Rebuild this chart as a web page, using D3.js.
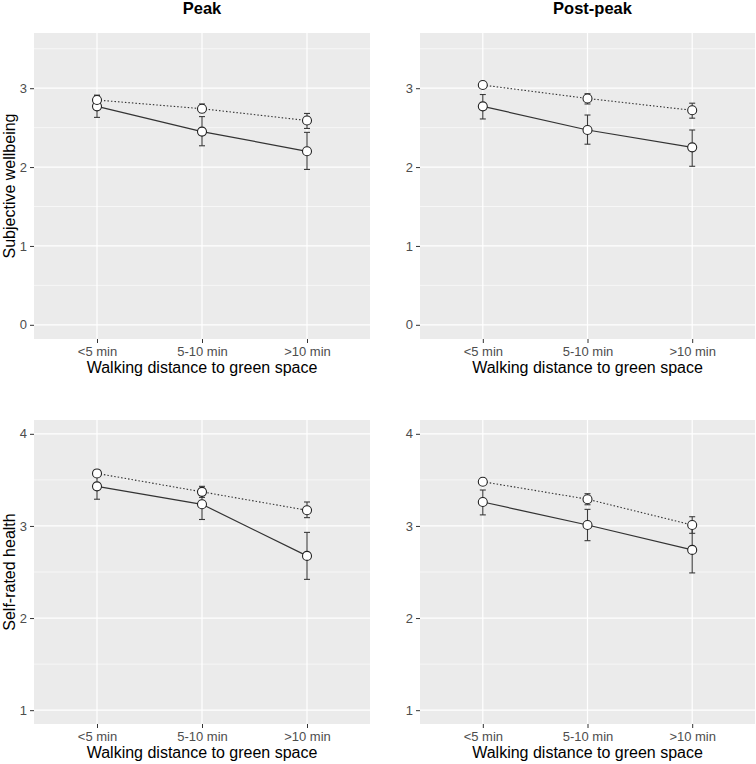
<!DOCTYPE html>
<html>
<head>
<meta charset="utf-8">
<script src="https://cdn.jsdelivr.net/npm/d3@7"></script>
<style>
  body { margin: 0; background: #fff; }
  svg { display: block; font-family: "Liberation Sans", Arial, sans-serif; }
</style>
</head>
<body>
<svg id="chart" width="756" height="764"></svg>
<script>
// ---- Data ----
const categories = ["<5 min", "5-10 min", ">10 min"];
const columnTitles = ["Peak", "Post-peak"];
const rowTitles = ["Subjective wellbeing", "Self-rated health"];
const xAxisTitle = "Walking distance to green space";

const swbTicks = [0, 1, 2, 3];
const srhTicks = [1, 2, 3, 4];

// Peak, subjective wellbeing
const swbPeakSolid = [2.77, 2.45, 2.20];
const swbPeakSolidLo = [2.63, 2.27, 1.97];
const swbPeakSolidHi = [2.91, 2.64, 2.44];
const swbPeakDotted = [2.85, 2.74, 2.59];
const swbPeakDottedLo = [2.80, 2.69, 2.49];
const swbPeakDottedHi = [2.91, 2.80, 2.68];

// Post-peak, subjective wellbeing
const swbPostSolid = [2.77, 2.47, 2.25];
const swbPostSolidLo = [2.61, 2.29, 2.01];
const swbPostSolidHi = [2.92, 2.66, 2.47];
const swbPostDotted = [3.04, 2.87, 2.72];
const swbPostDottedLo = [3.01, 2.80, 2.62];
const swbPostDottedHi = [3.07, 2.93, 2.81];

// Peak, self-rated health
const srhPeakSolid = [3.43, 3.235, 2.675];
const srhPeakSolidLo = [3.29, 3.07, 2.42];
const srhPeakSolidHi = [3.57, 3.39, 2.93];
const srhPeakDotted = [3.57, 3.37, 3.17];
const srhPeakDottedLo = [3.54, 3.31, 3.09];
const srhPeakDottedHi = [3.60, 3.43, 3.26];

// Post-peak, self-rated health
const srhPostSolid = [3.26, 3.01, 2.74];
const srhPostSolidLo = [3.12, 2.84, 2.49];
const srhPostSolidHi = [3.39, 3.18, 2.99];
const srhPostDotted = [3.48, 3.29, 3.01];
const srhPostDottedLo = [3.45, 3.23, 2.92];
const srhPostDottedHi = [3.51, 3.35, 3.10];

// ---- Build panels ----
function series(m, lo, hi) { return categories.map((c, i) => ({ c, m: m[i], lo: lo[i], hi: hi[i] })); }

const panels = [
  { row: 0, col: 0, domain: [-0.18, 3.70], ticks: swbTicks, showTitle: true, ylab: rowTitles[0],
    solid: series(swbPeakSolid, swbPeakSolidLo, swbPeakSolidHi),
    dotted: series(swbPeakDotted, swbPeakDottedLo, swbPeakDottedHi) },
  { row: 0, col: 1, domain: [-0.18, 3.70], ticks: swbTicks, showTitle: true, ylab: null,
    solid: series(swbPostSolid, swbPostSolidLo, swbPostSolidHi),
    dotted: series(swbPostDotted, swbPostDottedLo, swbPostDottedHi) },
  { row: 1, col: 0, domain: [0.85, 4.15], ticks: srhTicks, showTitle: false, ylab: rowTitles[1],
    solid: series(srhPeakSolid, srhPeakSolidLo, srhPeakSolidHi),
    dotted: series(srhPeakDotted, srhPeakDottedLo, srhPeakDottedHi) },
  { row: 1, col: 1, domain: [0.85, 4.15], ticks: srhTicks, showTitle: false, ylab: null,
    solid: series(srhPostSolid, srhPostSolidLo, srhPostSolidHi),
    dotted: series(srhPostDotted, srhPostDottedLo, srhPostDottedHi) }
];

const colX = [[34, 370], [420, 755]];
const rowY = [[33, 339], [420, 724]];

const svg = d3.select("#chart");

panels.forEach(p => {
  const [x0, x1] = colX[p.col];
  const [y0, y1] = rowY[p.row];
  const x = d3.scalePoint().domain(categories).range([x0, x1]).padding(0.6);
  const y = d3.scaleLinear().domain(p.domain).range([y1, y0]);
  const g = svg.append("g");

  // background
  g.append("rect").attr("x", x0).attr("y", y0).attr("width", x1 - x0).attr("height", y1 - y0).attr("fill", "#EBEBEB");

  // minor grid
  const minor = d3.range(Math.ceil(p.domain[0] * 2) / 2, p.domain[1], 0.5).filter(v => Math.abs(v - Math.round(v)) > 0.01);
  g.selectAll(".minor").data(minor).join("line")
    .attr("x1", x0).attr("x2", x1).attr("y1", d => y(d)).attr("y2", d => y(d))
    .attr("stroke", "#fff").attr("stroke-width", 0.6);
  // major grid
  g.selectAll(".majorY").data(p.ticks).join("line")
    .attr("x1", x0).attr("x2", x1).attr("y1", d => y(d)).attr("y2", d => y(d))
    .attr("stroke", "#fff").attr("stroke-width", 1.2);
  g.selectAll(".majorX").data(categories).join("line")
    .attr("x1", d => x(d)).attr("x2", d => x(d)).attr("y1", y0).attr("y2", y1)
    .attr("stroke", "#fff").attr("stroke-width", 1.2);

  // axes
  const yAxis = d3.axisLeft(y).tickValues(p.ticks).tickSize(4).tickPadding(3).tickFormat(d3.format("d"));
  const ya = g.append("g").attr("transform", `translate(${x0},0)`).call(yAxis);
  ya.select(".domain").remove();
  ya.selectAll(".tick line").attr("stroke", "#333").attr("stroke-width", 1);
  ya.selectAll(".tick text").attr("fill", "#4D4D4D").style("font-size", "13px").style("font-family", "Liberation Sans, Arial, sans-serif");

  const xAxis = d3.axisBottom(x).tickSize(4).tickPadding(4);
  const xa = g.append("g").attr("transform", `translate(0,${y1})`).call(xAxis);
  xa.select(".domain").remove();
  xa.selectAll(".tick line").attr("stroke", "#333").attr("stroke-width", 1);
  xa.selectAll(".tick text").attr("fill", "#4D4D4D").style("font-size", "13px").style("font-family", "Liberation Sans, Arial, sans-serif");

  // axis titles
  g.append("text").attr("x", (x0 + x1) / 2).attr("y", y1 + 34).attr("text-anchor", "middle")
    .attr("fill", "#000").style("font-size", "16px").text(xAxisTitle);
  if (p.ylab) {
    g.append("text").attr("transform", `translate(15,${(y0 + y1) / 2}) rotate(-90)`).attr("text-anchor", "middle")
      .attr("fill", "#000").style("font-size", "16px").text(p.ylab);
  }
  if (p.showTitle) {
    g.append("text").attr("x", (x0 + x1) / 2 + (p.col === 1 ? 5 : 0)).attr("y", 14).attr("text-anchor", "middle")
      .attr("fill", "#000").style("font-size", "16.5px").style("font-weight", "bold").text(columnTitles[p.col]);
  }

  // error bars
  const capW = 3;
  [p.solid, p.dotted].forEach(s => {
    const eb = g.append("g").attr("stroke", "#3a3a3a").attr("stroke-width", 1.1).attr("fill", "none");
    eb.selectAll(".v").data(s).join("line")
      .attr("x1", d => x(d.c)).attr("x2", d => x(d.c)).attr("y1", d => y(d.lo)).attr("y2", d => y(d.hi));
    eb.selectAll(".t").data(s).join("line")
      .attr("x1", d => x(d.c) - capW).attr("x2", d => x(d.c) + capW).attr("y1", d => y(d.hi)).attr("y2", d => y(d.hi));
    eb.selectAll(".b").data(s).join("line")
      .attr("x1", d => x(d.c) - capW).attr("x2", d => x(d.c) + capW).attr("y1", d => y(d.lo)).attr("y2", d => y(d.lo));
  });

  // lines
  const line = d3.line().x(d => x(d.c)).y(d => y(d.m));
  g.append("path").datum(p.solid).attr("d", line).attr("fill", "none").attr("stroke", "#333").attr("stroke-width", 1.2);
  g.append("path").datum(p.dotted).attr("d", line).attr("fill", "none").attr("stroke", "#333").attr("stroke-width", 1.1)
    .attr("stroke-dasharray", "1.5,2");

  // points
  [p.solid, p.dotted].forEach(s => {
    g.selectAll(null).data(s).join("circle")
      .attr("cx", d => x(d.c)).attr("cy", d => y(d.m)).attr("r", 4.5)
      .attr("fill", "#fff").attr("stroke", "#222").attr("stroke-width", 1.1);
  });
});
</script>
</body>
</html>
